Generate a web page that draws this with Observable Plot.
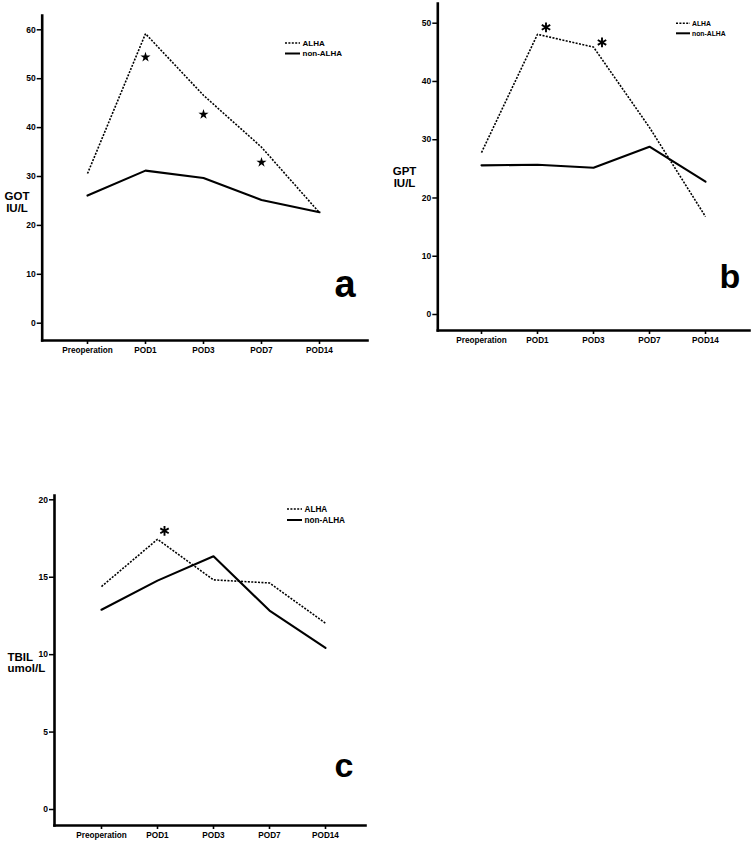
<!DOCTYPE html>
<html><head><meta charset="utf-8">
<script src="https://cdn.jsdelivr.net/npm/d3@7"></script>
<script src="https://cdn.jsdelivr.net/npm/@observablehq/plot@0.6"></script>
<style>
body{margin:0;background:#fff;}
#wrap{position:relative;width:753px;height:846px;overflow:hidden;background:#fff}
.panel{position:absolute}
</style></head><body><div id="wrap"></div>
<script>
// ---------- data ----------
const categories = ["Preoperation", "POD1", "POD3", "POD7", "POD14"];
const seriesNames = ["ALHA", "non-ALHA"];

const gotALHA = [30.6, 59.2, 46.6, 36.0, 22.6];
const gotNon  = [26.1, 31.2, 29.7, 25.2, 22.7];
const gotStarCats = ["POD1", "POD3", "POD7"];
const gotStarVals = [54.4, 42.7, 32.9];
const gotTicks = [0, 10, 20, 30, 40, 50, 60];

const gptALHA = [27.8, 48.1, 45.9, 32.1, 16.8];
const gptNon  = [25.6, 25.7, 25.2, 28.8, 22.8];
const gptStarCats = ["POD1", "POD3"];
const gptStarVals = [49.3, 46.7];
const gptTicks = [0, 10, 20, 30, 40, 50];

const tbilALHA = [14.4, 17.45, 14.83, 14.63, 12.03];
const tbilNon  = [12.9, 14.78, 16.35, 12.85, 10.44];
const tbilStarCats = ["POD1"];
const tbilStarVals = [18.0];
const tbilTicks = [0, 5, 10, 15, 20];

const FONT = "'Liberation Sans', Arial, Helvetica, sans-serif";

function rows(vals) { return categories.map((c, i) => ({cat: c, v: vals[i]})); }

function legendMark(cfg) {
  return (index, scales, values, dim) => {
    const g = d3.create("svg:g").attr("font-family", FONT).attr("font-weight", "bold")
      .attr("font-size", cfg.font).attr("text-anchor", "start");
    const x0 = cfg.lx0, x1 = cfg.lx1;
    [[cfg.ly0, "2,1.4", 1.6, seriesNames[0]], [cfg.ly1, null, 2, seriesNames[1]]].forEach(([y, dash, w, name]) => {
      const l = g.append("line").attr("x1", x0).attr("x2", x1).attr("y1", y).attr("y2", y)
        .attr("stroke", "#000").attr("stroke-width", w);
      if (dash) l.attr("stroke-dasharray", dash);
      g.append("text").attr("x", x1 + cfg.gap).attr("y", y).attr("dy", "0.35em")
        .attr("text-anchor", "start").attr("fill", "#000").text(name);
    });
    return g.node();
  };
}

function panel(p) {
  const mL = p.yAxisX, mT = p.axisTop, mB = p.height - p.xAxisY, mR = p.width - p.xAxisRight;
  const marks = [
    Plot.frame({anchor: "left", stroke: "#000", strokeWidth: 2.6}),
    Plot.frame({anchor: "bottom", stroke: "#000", strokeWidth: 2.6}),
    Plot.axisY({ticks: p.ticks, tickSize: 5, tickPadding: 1.5, strokeWidth: 1.5, label: null,
      fontSize: 8.5, fontWeight: "bold"}),
    Plot.axisX({tickSize: 4, tickPadding: 3, strokeWidth: 1.6, label: null,
      fontSize: p.xFont, fontWeight: "bold"}),
    Plot.line(rows(p.alha), {x: "cat", y: "v", stroke: "#000", strokeWidth: 1.6,
      strokeDasharray: "2,1.4", strokeLinecap: "butt", strokeLinejoin: "miter"}),
    Plot.line(rows(p.non), {x: "cat", y: "v", stroke: "#000", strokeWidth: 2.1, strokeLinejoin: "round"}),
    p.starFilled
      ? Plot.dot(p.starCats.map((c, i) => ({cat: c, v: p.starVals[i]})),
          {x: "cat", y: "v", symbol: "star", r: p.starR, fill: "#000", stroke: null, dx: p.starDx})
      : Plot.dot(p.starCats.map((c, i) => ({cat: c, v: p.starVals[i]})),
          {x: "cat", y: "v", symbol: "asterisk", r: p.starR, stroke: "#000", strokeWidth: 1.9, dx: p.starDx}),
    Plot.text([p.title], {frameAnchor: "top-left", dx: p.titleX - mL, dy: p.titleY - mT,
      textAnchor: p.titleAnchor, lineAnchor: "top", lineHeight: p.titleLH, fontSize: 11.5, fontWeight: "bold"}),
    Plot.text([p.letter], {frameAnchor: "bottom-right", dx: p.letterX - p.xAxisRight, dy: p.letterBase - p.xAxisY,
      textAnchor: "start", lineAnchor: "bottom", fontSize: p.letterSize, fontWeight: "bold"}),
    legendMark(p.legend)
  ];
  const svg = Plot.plot({
    width: p.width, height: p.height,
    marginLeft: mL, marginTop: mT, marginBottom: mB, marginRight: mR,
    style: {fontFamily: FONT, fontWeight: "bold", color: "#000", background: "#fff", overflow: "visible"},
    x: {type: "point", domain: categories, range: p.xRange, padding: 0},
    y: {type: "linear", domain: p.yDomain, range: p.yRange},
    marks
  });
  const div = document.createElement("div");
  div.className = "panel";
  div.style.left = p.left + "px";
  div.style.top = p.top + "px";
  div.appendChild(svg);
  document.getElementById("wrap").appendChild(div);
}

// panel a
panel({
  left: 0, top: 0, width: 380, height: 365,
  yAxisX: 41.7, axisTop: 15, xAxisY: 340, xAxisRight: 367,
  xRange: [86, 320.7], yDomain: [0, 60], yRange: [322.7, 29.3], ticks: gotTicks, xFont: 8.2,
  alha: gotALHA, non: gotNon, starCats: gotStarCats, starVals: gotStarVals, starFilled: true, starR: 3.2, starDx: 0,
  title: "GOT\nIU/L", titleX: 16.5, titleY: 191.5, titleAnchor: "middle", titleLH: 1.0,
  letter: "a", letterX: 334, letterBase: 296, letterSize: 38,
  legend: {lx0: 285, lx1: 300, ly0: 43, ly1: 53.5, gap: 2.5, font: 8}
});

// panel b
panel({
  left: 380, top: 0, width: 373, height: 352,
  yAxisX: 57.3, axisTop: 3, xAxisY: 330, xAxisRight: 369,
  xRange: [101, 325.7], yDomain: [0, 50], yRange: [314, 22.7], ticks: gptTicks, xFont: 8.2,
  alha: gptALHA, non: gptNon, starCats: gptStarCats, starVals: gptStarVals, starFilled: false, starR: 4.6, starDx: 8.5,
  title: "GPT\nIU/L", titleX: 24, titleY: 166.5, titleAnchor: "middle", titleLH: 1.0,
  letter: "b", letterX: 339, letterBase: 287, letterSize: 34,
  legend: {lx0: 296, lx1: 310, ly0: 23.3, ly1: 33.3, gap: 2, font: 6.8}
});

// panel c
panel({
  left: 0, top: 430, width: 380, height: 416,
  yAxisX: 54, axisTop: 65, xAxisY: 395, xAxisRight: 365,
  xRange: [99, 326.7], yDomain: [0, 20], yRange: [379, 69.3], ticks: tbilTicks, xFont: 8.2,
  alha: tbilALHA, non: tbilNon, starCats: tbilStarCats, starVals: tbilStarVals, starFilled: false, starR: 4.6, starDx: 7,
  title: "TBIL\numol/L", titleX: 7, titleY: 222.5, titleAnchor: "start", titleLH: 0.95,
  letter: "c", letterX: 334, letterBase: 346, letterSize: 34,
  legend: {lx0: 287, lx1: 302, ly0: 79, ly1: 90, gap: 2.5, font: 8.2}
});
</script></body></html>
